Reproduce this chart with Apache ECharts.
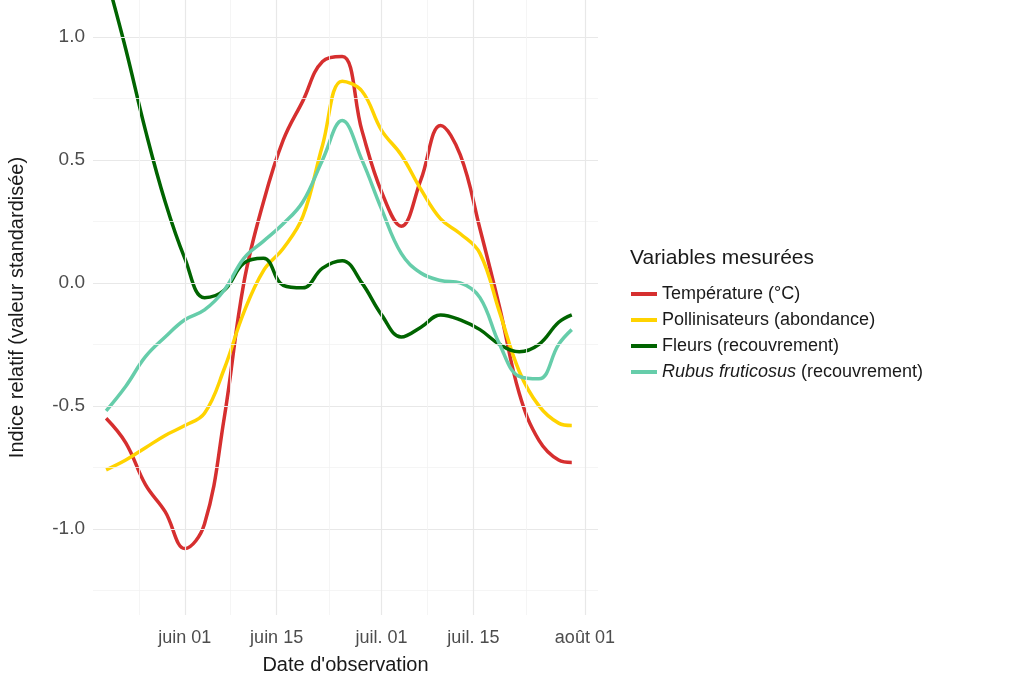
<!DOCTYPE html>
<html>
<head>
<meta charset="UTF-8">
<script src="https://cdn.jsdelivr.net/npm/echarts@6/dist/echarts.min.js"></script>
</head>
<body style="margin:0">
<div id="main" style="width:1024px;height:683px;"></div>
<script>
// day offsets from May 20 (sampled every 3 days, last = Jul 30)
var days = [0,3,6,9,12,15,18,21,24,27,30,33,36,39,42,45,48,51,54,57,60,63,66,69,71];
var temperature = [-0.55,-0.65,-0.82,-0.93,-1.08,-0.98,-0.55,0.0,0.33,0.58,0.74,0.90,0.92,0.62,0.37,0.23,0.42,0.64,0.52,0.22,-0.10,-0.45,-0.64,-0.72,-0.73];
var pollinisateurs = [-0.76,-0.72,-0.67,-0.62,-0.58,-0.53,-0.35,-0.12,0.05,0.14,0.27,0.56,0.82,0.78,0.62,0.52,0.38,0.26,0.20,0.12,-0.12,-0.36,-0.50,-0.57,-0.58];
var fleurs = [1.25,0.95,0.62,0.33,0.10,-0.06,-0.03,0.08,0.10,-0.01,-0.02,0.06,0.09,0.0,-0.13,-0.22,-0.18,-0.13,-0.15,-0.19,-0.25,-0.28,-0.25,-0.16,-0.13];
var rubus = [-0.52,-0.42,-0.30,-0.22,-0.15,-0.11,-0.03,0.10,0.17,0.24,0.33,0.50,0.66,0.50,0.30,0.12,0.04,0.01,0.0,-0.06,-0.25,-0.38,-0.39,-0.25,-0.19];
var yMajor = [-1, -0.5, 0, 0.5, 1];
var yMinor = [-1.25, -0.75, -0.25, 0.25, 0.75];
var xMajor = {14:'juin 01', 28:'juin 15', 44:'juil. 01', 58:'juil. 15', 75:'août 01'};
var xMinor = [7, 21, 36, 51, 66];

var moisNoms = ['janv.','févr.','mars','avr.','mai','juin','juil.','août'];
var cats = [];
for (var i = 0; i < 78; i++) {
  var d = new Date(2024, 4, 18 + i);
  cats.push(moisNoms[d.getMonth()] + ' ' + d.getDate());
}
function pts(vals) { return days.map(function (d, k) { return [d + 2, vals[k]]; }); }

var chart = echarts.init(document.getElementById('main'));
function line(name, color, vals) {
  return { name: name, type: 'line', data: pts(vals), smooth: 0.4, showSymbol: false,
    lineStyle: { width: 3.5, color: color }, itemStyle: { color: color } };
}
var gridLines = [];
yMajor.forEach(function (v) { gridLines.push({ yAxis: v, lineStyle: { color: '#e8e8e8', width: 1.2 } }); });
yMinor.forEach(function (v) { gridLines.push({ yAxis: v, lineStyle: { color: '#f3f3f3', width: 0.8 } }); });
Object.keys(xMajor).forEach(function (k) { gridLines.push({ xAxis: +k, lineStyle: { color: '#e8e8e8', width: 1.2 } }); });
xMinor.forEach(function (k) { gridLines.push({ xAxis: k, lineStyle: { color: '#f3f3f3', width: 0.8 } }); });

var series = [
  { type: 'line', data: [], silent: true,
    markLine: { symbol: 'none', silent: true, label: { show: false }, lineStyle: { type: 'solid' }, data: gridLines } },
  line('Température (°C)', '#d62f2f', temperature),
  line('Pollinisateurs (abondance)', '#ffd300', pollinisateurs),
  line('Fleurs (recouvrement)', '#006400', fleurs),
  line('Rubus', '#66cdaa', rubus)
];
series[0].z = 1;

var F = 'Liberation Sans';
chart.setOption({
  animation: false,
  textStyle: { fontFamily: F },
  grid: { left: 93, right: 426, top: 0, bottom: 68 },
  title: { text: 'Variables mesurées', left: 625, top: 243,
    textStyle: { fontSize: 21, fontWeight: 'normal', color: '#1a1a1a', fontFamily: F } },
  legend: { orient: 'vertical', left: 626, top: 280, itemWidth: 26, itemHeight: 4, itemGap: 8,
    icon: 'rect', data: ['Température (°C)', 'Pollinisateurs (abondance)', 'Fleurs (recouvrement)', 'Rubus'],
    textStyle: { fontSize: 18, fontFamily: F, color: '#1a1a1a', rich: { it: { fontStyle: 'italic', fontSize: 18, fontFamily: F, color: '#1a1a1a' } } },
    formatter: function (n) { return n === 'Rubus' ? '{it|Rubus fruticosus} (recouvrement)' : n; } },
  xAxis: { type: 'category', data: cats, boundaryGap: false,
    name: "Date d'observation", nameLocation: 'middle', nameGap: 40,
    nameTextStyle: { fontSize: 20, color: '#1a1a1a', fontFamily: F },
    axisLine: { show: false }, axisTick: { show: false }, splitLine: { show: false },
    axisLabel: { fontSize: 18, color: '#4d4d4d', margin: 14, fontFamily: F,
      interval: function (i) { return xMajor[i] !== undefined; },
      formatter: function (v, i) { return xMajor[i] || ''; } } },
  yAxis: { type: 'value', min: -1.35, max: 1.15,
    name: 'Indice relatif (valeur standardisée)', nameLocation: 'middle', nameGap: 66,
    nameTextStyle: { fontSize: 20, color: '#1a1a1a', fontFamily: F },
    axisLine: { show: false }, axisTick: { show: false }, splitLine: { show: false },
    axisLabel: { fontSize: 19, color: '#4d4d4d', customValues: yMajor, fontFamily: F,
      formatter: function (v) { return v.toFixed(1); } } },
  series: series
});
</script>
</body>
</html>
